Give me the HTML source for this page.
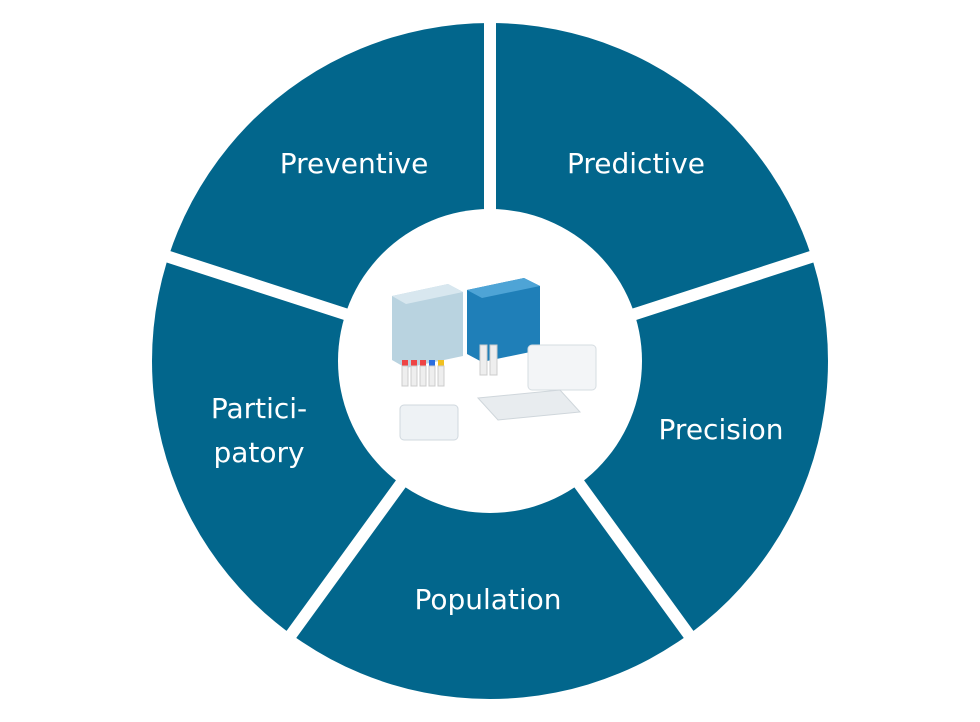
<!DOCTYPE html>
<html><head><meta charset="utf-8"><style>
html,body{margin:0;padding:0;background:#fff;}
svg{display:block;}
text{font-family:"DejaVu Sans","Liberation Sans",sans-serif;fill:#fff;font-size:28px;}
</style></head><body>
<svg width="980" height="722" viewBox="0 0 980 722">
<circle cx="490" cy="361" r="338" fill="#02668c"/>
<g stroke="#fff" stroke-width="12">
<line x1="490" y1="361" x2="490" y2="0"/>
<line x1="490" y1="361" x2="851" y2="244"/>
<line x1="490" y1="361" x2="713" y2="668"/>
<line x1="490" y1="361" x2="267" y2="668"/>
<line x1="490" y1="361" x2="129" y2="244"/>
</g>
<circle cx="490" cy="361" r="152" fill="#fff"/>
<polygon points="392,296 448,284 463,292 463,356 406,368 392,360" fill="#b9d3e0"/>
<polygon points="392,296 448,284 463,292 406,304" fill="#d8e7ef"/>
<polygon points="467,290 524,278 540,286 540,350 482,362 467,354" fill="#1f7fb8"/>
<polygon points="467,290 524,278 540,286 482,298" fill="#4ea4d6"/>
<rect x="400" y="405" width="58" height="35" rx="4" fill="#eef2f5" stroke="#d0d8de"/>
<rect x="528" y="345" width="68" height="45" rx="4" fill="#f3f5f7" stroke="#d6dde2"/>
<polygon points="478,398 560,390 580,412 498,420" fill="#e8ecef" stroke="#cfd6db"/>
<g fill="#e44">
<rect x="402" y="360" width="6" height="6"/><rect x="411" y="360" width="6" height="6"/><rect x="420" y="360" width="6" height="6"/><rect x="429" y="360" width="6" height="6" fill="#2a6de0"/><rect x="438" y="360" width="6" height="6" fill="#f0c020"/>
</g>
<g fill="#eee" stroke="#ccc">
<rect x="402" y="366" width="6" height="20"/><rect x="411" y="366" width="6" height="20"/><rect x="420" y="366" width="6" height="20"/><rect x="429" y="366" width="6" height="20"/><rect x="438" y="366" width="6" height="20"/>
<rect x="480" y="345" width="7" height="30"/><rect x="490" y="345" width="7" height="30"/>
</g>
<text x="354" y="173" text-anchor="middle">Preventive</text>
<text x="636" y="173" text-anchor="middle">Predictive</text>
<text x="721" y="439" text-anchor="middle">Precision</text>
<text x="488" y="609" text-anchor="middle">Population</text>
<text x="259" y="418" text-anchor="middle">Partici-</text>
<text x="259" y="462" text-anchor="middle">patory</text>
</svg>
</body></html>
